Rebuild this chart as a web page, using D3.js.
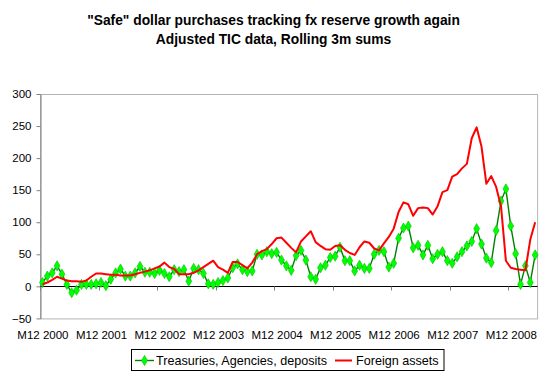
<!DOCTYPE html>
<html><head><meta charset="utf-8">
<script src="https://cdn.jsdelivr.net/npm/d3@7"></script>
<style>
body{margin:0;background:#fff}
svg{display:block}
text{font-family:"Liberation Sans",Arial,sans-serif;fill:#000}
</style>
</head><body>
<svg id="c" width="547" height="374"></svg>
<script>
const titleLines = ['"Safe" dollar purchases tracking fx reserve growth again', 'Adjusted TIC data, Rolling 3m sums'];
const seriesNames = ['Treasuries, Agencies, deposits', 'Foreign assets'];
// monthly categories M12 2000 .. M5 2009
const months = [];
for (let i = 0; i < 102; i++) {
  const m = (11 + i) % 12 + 1;
  const yr = 2000 + Math.floor((11 + i) / 12);
  months.push('M' + m + ' ' + yr);
}
const xTickLabels = ['M12 2000','M12 2001','M12 2002','M12 2003','M12 2004','M12 2005','M12 2006','M12 2007','M12 2008'];
const yTicks = [-50, 0, 50, 100, 150, 200, 250, 300];

const treasuries = [
  6, 16, 21, 32, 19, 3, -10, -6, 3, 3,
  3, 4, 6, 1, 11, 21, 27, 16, 16, 21,
  31, 22, 22, 20, 25, 20, 15, 26, 23, 26,
  8, 28, 26, 20, 4, 3, 6, 9, 13, 29,
  35, 26, 23, 24, 50, 49, 54, 51, 53, 41,
  32, 25, 48, 56, 41, 15, 11, 29, 33, 45,
  47, 61, 40, 40, 24, 33, 28, 28, 50, 56,
  54, 30, 36, 75, 91, 94, 60, 64, 49, 64,
  43, 50, 54, 40, 36, 46, 54, 63, 70, 90,
  66, 44, 37, 87, 133, 152, 94, 51, 3, 32,
  6, 49
];
const foreignAssets = [
  3, 6, 10, 15, 12, 9, 8, 8, 7, 9,
  15, 20, 20, 19, 18, 18, 17, 17, 17, 19,
  21, 23, 25, 28, 31, 37, 30, 27, 19, 19,
  19, 21, 25, 30, 35, 40, 30, 26, 21, 38,
  38, 33, 28, 37, 50, 55, 58, 66, 75, 76,
  68, 60, 53, 70, 78, 86, 69, 63, 58, 57,
  63, 64, 57, 52, 49, 61, 70, 68, 59, 56,
  67, 77, 90, 116, 131, 128, 110, 122, 123, 122,
  112, 125, 147, 150, 171, 175, 184, 191, 231, 248,
  218, 160, 172, 155, 125, 40, 29, 27, 26, 25,
  73, 100
];

const svg = d3.select('#c');
const L = 40, R = 537.6, T = 94, B = 318.4;

const x = d3.scalePoint().domain(months).range([L, R]).padding(0.5);
const y = d3.scaleLinear().domain([-50, 300]).range([B, T]);
const step = x.step();

// title
svg.selectAll('text.title').data(titleLines).join('text')
  .attr('class', 'title')
  .attr('x', 273.5).attr('y', (d, i) => 25.3 + i * 19)
  .attr('text-anchor', 'middle')
  .style('font-weight', 'bold').style('font-size', '13.8px')
  .text(d => d);

// plot area border
svg.append('rect')
  .attr('x', L + 0.5).attr('y', T + 0.5)
  .attr('width', R - L - 0.5).attr('height', B - T)
  .attr('fill', 'none').attr('stroke', '#b4b4b4').attr('stroke-width', 1);

// y axis
const yAxis = svg.append('g').attr('transform', `translate(${L + 0.5},0)`)
  .call(d3.axisLeft(y).tickValues(yTicks).tickSize(4).tickSizeOuter(0).tickPadding(5));
yAxis.select('.domain').attr('stroke', '#808080');
yAxis.selectAll('.tick line').attr('stroke', '#808080');
yAxis.selectAll('.tick text').style('font-size', '11.5px').style('font-family', '"Liberation Sans",Arial,sans-serif');

// x axis at zero
const x0 = Math.round(y(0)) + 0.5;
const xAxis = svg.append('g').attr('transform', `translate(0,${x0})`)
  .call(d3.axisBottom(x).tickValues(xTickLabels).tickSize(0).tickSizeOuter(0).tickPadding(44));
xAxis.select('.domain').attr('stroke', '#000').attr('d', `M${L},0H${R}`);
xAxis.selectAll('.tick text').style('font-size', '11.5px').style('font-family', '"Liberation Sans",Arial,sans-serif');

// tick marks at category boundaries every 12 months
const boundaryTicks = xTickLabels.map(lbl => x(lbl) - step / 2);
svg.append('g').selectAll('line').data(boundaryTicks).join('line')
  .attr('x1', d => Math.round(d) + 0.5).attr('x2', d => Math.round(d) + 0.5)
  .attr('y1', x0).attr('y2', x0 + 4)
  .attr('stroke', '#808080');

// lines
const lineT = d3.line().x((d, i) => x(months[i])).y(d => y(d));
svg.append('path').datum(treasuries)
  .attr('d', lineT).attr('fill', 'none')
  .attr('stroke', '#008000').attr('stroke-width', 1.4);

const diamond = d3.symbol().type(d3.symbolDiamond).size(30);
svg.append('g').selectAll('path').data(treasuries).join('path')
  .attr('transform', (d, i) => `translate(${x(months[i])},${y(d)})`)
  .attr('d', diamond)
  .attr('fill', '#00ff00').attr('stroke', '#00c000').attr('stroke-width', 0.6);

svg.append('path').datum(foreignAssets)
  .attr('d', lineT).attr('fill', 'none')
  .attr('stroke', '#ff0000').attr('stroke-width', 2).attr('stroke-linejoin', 'round');

// legend
const lg = svg.append('g');
lg.append('rect').attr('x', 131.5).attr('y', 349.5).attr('width', 312.5).attr('height', 21)
  .attr('fill', '#fff').attr('stroke', '#000');
lg.append('line').attr('x1', 135).attr('x2', 154).attr('y1', 360.5).attr('y2', 360.5)
  .attr('stroke', '#008000').attr('stroke-width', 1.4);
lg.append('path').attr('transform', 'translate(144.5,360.5)').attr('d', diamond)
  .attr('fill', '#00ff00').attr('stroke', '#00c000').attr('stroke-width', 0.6);
lg.append('text').attr('x', 156).attr('y', 365).style('font-size', '12.6px').text(seriesNames[0]);
lg.append('line').attr('x1', 335).attr('x2', 352).attr('y1', 360.5).attr('y2', 360.5)
  .attr('stroke', '#ff0000').attr('stroke-width', 2);
lg.append('text').attr('x', 356).attr('y', 365).style('font-size', '12.6px').text(seriesNames[1]);
</script>
</body></html>
